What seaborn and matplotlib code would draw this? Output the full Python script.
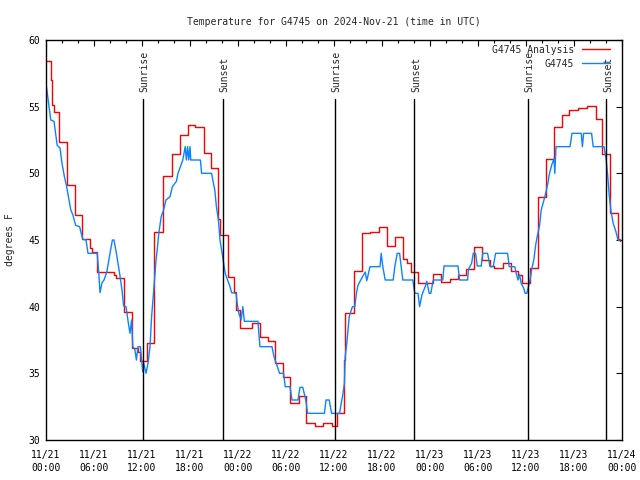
import numpy as np
import pandas as pd
import seaborn as sns
import matplotlib.pyplot as plt
from matplotlib.lines import Line2D

# hours since 2024-11-21 00:00 UTC
red_hours = [0.0, 0.6, 0.8, 1.0, 1.6, 2.6, 3.6, 4.5, 5.5, 5.8, 6.4, 8.5, 8.8, 9.7, 10.7,
             11.5, 11.8, 12.6, 13.5, 14.6, 15.7, 16.8, 17.8, 18.6, 19.8, 20.6, 21.55,
             21.75, 22.7, 23.5, 23.8, 24.3, 25.8, 26.7, 27.8, 28.6, 29.6, 30.5, 31.6,
             32.5, 33.6, 34.6, 35.7, 36.4, 37.2, 37.4, 38.5, 39.5, 40.5, 41.6, 42.6,
             43.6, 44.6, 45.1, 45.6, 46.5, 48.4, 49.4, 50.5, 51.5, 52.5, 53.5, 54.5,
             55.5, 56.0, 57.1, 58.1, 59.0, 59.5, 60.5, 61.5, 62.5, 63.5, 64.5, 65.4,
             66.5, 67.6, 68.7, 69.5, 70.5, 71.5, 71.75]
red_temp = [58.45, 57.0, 55.1, 54.6, 52.35, 49.1, 46.9, 45.05, 44.4, 44.1, 42.6, 42.4,
            42.15, 39.6, 36.9, 36.6, 35.9, 37.25, 45.6, 49.8, 51.45, 52.9, 53.6, 53.5,
            51.5, 50.4, 46.6, 45.4, 42.2, 41.1, 39.75, 38.4, 38.75, 37.7, 37.4, 35.8,
            34.7, 32.8, 33.3, 31.3, 31.05, 31.3, 31.05, 32.0, 36.0, 39.5, 42.7, 45.5,
            45.6, 45.95, 44.55, 45.2, 43.55, 43.3, 42.6, 41.8, 42.45, 41.85, 42.05,
            42.4, 42.8, 44.45, 43.5, 43.05, 42.9, 43.25, 42.7, 42.4, 41.75, 42.9,
            48.25, 51.1, 53.5, 54.4, 54.75, 54.9, 55.05, 54.05, 51.45, 47.0, 45.1, 44.9]

blue_hours = [0.0, 0.375, 0.6, 1.0, 1.2, 1.4, 1.75, 2.0, 2.3, 2.55, 2.8, 3.1, 3.35, 3.7,
              4.2, 4.4, 4.6, 5.0, 5.25, 6.4, 6.6, 6.75, 7.0, 7.25, 7.6, 8.0, 8.3, 8.5,
              8.8, 9.2, 9.5, 9.7, 10.0, 10.3, 10.5, 10.7, 10.85, 11.1, 11.3, 11.5, 11.8,
              11.95, 12.1, 12.2, 12.5, 12.75, 13.0, 13.2, 13.5, 13.75, 13.9, 14.1, 14.4,
              14.7, 15.0, 15.5, 15.8, 16.3, 16.5, 16.8, 17.1, 17.4, 17.55, 17.7, 17.85,
              18.0, 18.1, 19.3, 19.45, 20.7, 20.85, 21.1, 21.3, 21.55, 21.75, 21.95,
              22.2, 22.4, 22.7, 23.0, 23.2, 23.75, 23.9, 24.1, 24.4, 24.6, 24.8, 26.5,
              26.6, 26.75, 28.25, 28.5, 28.7, 29.0, 29.2, 29.7, 29.9, 30.5, 30.75, 31.5,
              31.75, 32.1, 32.5, 32.7, 34.8, 35.0, 35.4, 35.7, 36.7, 36.9, 37.1, 37.3,
              37.4, 37.6, 37.75, 37.9, 38.3, 38.6, 38.8, 39.0, 39.3, 39.9, 40.1, 40.5,
              41.75, 41.9, 42.1, 42.4, 43.4, 43.6, 43.9, 44.2, 44.4, 44.6, 45.85, 46.1,
              46.5, 46.7, 47.0, 47.4, 47.6, 47.9, 48.1, 48.4, 49.6, 49.75, 51.5, 51.7,
              52.7, 52.8, 53.2, 53.4, 53.7, 53.9, 54.4, 54.6, 55.2, 55.5, 55.9, 56.2,
              57.7, 57.9, 58.6, 58.8, 59.0, 59.2, 59.4, 59.7, 59.9, 60.1, 60.5, 60.75,
              61.0, 61.2, 61.4, 61.7, 61.9, 62.2, 62.5, 62.75, 62.9, 63.2, 63.5, 63.6,
              63.75, 65.5, 65.75, 66.9, 67.05, 67.2, 68.2, 68.4, 69.75, 70.0, 70.2, 70.4,
              70.6, 70.9, 71.25, 71.5, 71.8]
blue_temp = [56.75, 55.0, 54.0, 53.9, 53.0, 52.1, 51.9, 50.75, 49.75, 49.1, 48.25, 47.25,
             46.9, 46.1, 46.0, 45.5, 45.05, 45.0, 44.0, 44.0, 42.5, 41.05, 41.8, 42.0,
             42.6, 44.0, 45.0, 45.0, 44.0, 42.5, 41.25, 40.05, 40.0, 38.75, 38.0, 39.0,
             37.0, 36.8, 36.0, 37.0, 37.0, 36.0, 35.1, 35.8, 35.0, 35.75, 37.0, 39.25,
             41.5, 43.5, 44.25, 45.5, 46.75, 47.25, 48.0, 48.25, 49.0, 49.4, 50.0, 50.5,
             51.0, 52.0, 51.0, 52.0, 51.0, 52.0, 51.0, 51.0, 50.0, 50.0, 49.5, 48.75,
             47.5, 46.5, 45.0, 44.25, 43.25, 42.5, 42.0, 41.5, 41.05, 41.0, 40.25, 39.5,
             39.0, 40.0, 38.9, 38.9, 38.0, 37.0, 37.0, 36.25, 35.9, 35.4, 35.0, 35.0,
             34.0, 34.0, 33.0, 33.0, 33.95, 33.95, 32.9, 32.0, 32.0, 33.0, 33.0, 32.0,
             32.0, 32.75, 33.4, 34.25, 36.25, 37.25, 38.25, 39.25, 40.0, 40.0, 41.0,
             41.6, 41.95, 42.6, 41.95, 43.0, 43.0, 44.0, 43.0, 42.0, 42.0, 43.0, 44.0,
             44.0, 43.0, 42.0, 42.0, 41.0, 41.0, 40.0, 40.9, 41.5, 41.9, 41.0, 41.0,
             42.0, 42.0, 43.05, 43.05, 42.0, 42.0, 42.8, 43.25, 44.0, 44.0, 43.05, 43.05,
             44.0, 44.0, 43.0, 43.0, 44.0, 44.0, 43.0, 43.0, 42.45, 42.0, 42.4, 41.75,
             41.4, 41.0, 41.0, 42.0, 42.9, 43.6, 44.6, 45.25, 46.1, 47.25, 47.9, 48.6,
             49.3, 49.9, 50.6, 51.1, 50.0, 52.0, 52.0, 53.0, 53.0, 52.0, 53.0, 53.0,
             52.0, 52.0, 51.1, 49.9, 48.4, 47.25, 46.25, 45.6, 45.0, 45.0]

sunrise_hours = [12.1, 36.15, 60.2]
sunset_hours = [22.15, 46.05, 70.05]

tick_hours = [0, 6, 12, 18, 24, 30, 36, 42, 48, 54, 60, 66, 72]
tick_labels = ["11/21\n00:00", "11/21\n06:00", "11/21\n12:00", "11/21\n18:00",
               "11/22\n00:00", "11/22\n06:00", "11/22\n12:00", "11/22\n18:00",
               "11/23\n00:00", "11/23\n06:00", "11/23\n12:00", "11/23\n18:00",
               "11/24\n00:00"]

sns.set_style("white")
plt.rcParams['font.family'] = ['DejaVu Sans Mono', 'DejaVu Sans']
fs = 7

red = pd.DataFrame({'hour': red_hours, 'temp': red_temp})
blue = pd.DataFrame({'hour': blue_hours, 'temp': blue_temp})

fig = plt.figure(figsize=(6.4, 4.8), dpi=100)
ax = fig.add_axes([46 / 640, 40 / 480, 576 / 640, 400 / 480])

sns.lineplot(data=red, x='hour', y='temp', ax=ax, color='#ff0000', lw=1.0,
             drawstyle='steps-post', sort=False, estimator=None)
sns.lineplot(data=blue, x='hour', y='temp', ax=ax, color='#0a84ff', lw=1.0,
             sort=False, estimator=None)

for h in sunrise_hours:
    ax.plot([h, h], [0, 0.8525], color='black', lw=1.0, transform=ax.get_xaxis_transform())
    ax.text(h + 0.2, 0.87, 'Sunrise', rotation=90, ha='center', va='bottom', fontsize=fs,
            transform=ax.get_xaxis_transform())
for h in sunset_hours:
    ax.plot([h, h], [0, 0.8525], color='black', lw=1.0, transform=ax.get_xaxis_transform())
    ax.text(h + 0.2, 0.87, 'Sunset', rotation=90, ha='center', va='bottom', fontsize=fs,
            transform=ax.get_xaxis_transform())

ax.set_xlim(0, 72)
ax.set_ylim(30, 60)
ax.set_xticks(tick_hours)
ax.set_xticklabels(tick_labels)
ax.set_xticks(np.arange(0, 73, 2), minor=True)
ax.set_yticks(np.arange(30, 61, 5))
ax.tick_params(axis='both', which='both', direction='in', top=True, right=True,
               labelsize=fs, colors='black')
ax.tick_params(axis='both', which='major', length=4.5, width=0.8)
ax.tick_params(axis='x', which='minor', length=2.5, width=0.8)
ax.tick_params(axis='x', which='major', pad=7)
ax.tick_params(axis='y', which='major', pad=4)
for t in ax.get_xticklabels():
    t.set_linespacing(1.45)
for s in ax.spines.values():
    s.set_color('black')
    s.set_linewidth(1.0)

ax.set_xlabel('')
ax.set_ylabel('degrees F', fontsize=fs)
ax.yaxis.set_label_coords(-0.054, 0.5)
ax.set_title('Temperature for G4745 on 2024-Nov-21 (time in UTC)', fontsize=fs, pad=11)

handles = [Line2D([], [], color='#ff0000', lw=1.0), Line2D([], [], color='#0a84ff', lw=1.0)]
ax.legend(handles, ['G4745 Analysis', 'G4745'], loc='upper right', frameon=False,
          bbox_to_anchor=(1 - 7 / 576, 1), markerfirst=False, fontsize=fs,
          handlelength=2.9, handletextpad=0.8, borderaxespad=0.1, labelspacing=0.4)

fig.savefig('out.png', dpi=100)
